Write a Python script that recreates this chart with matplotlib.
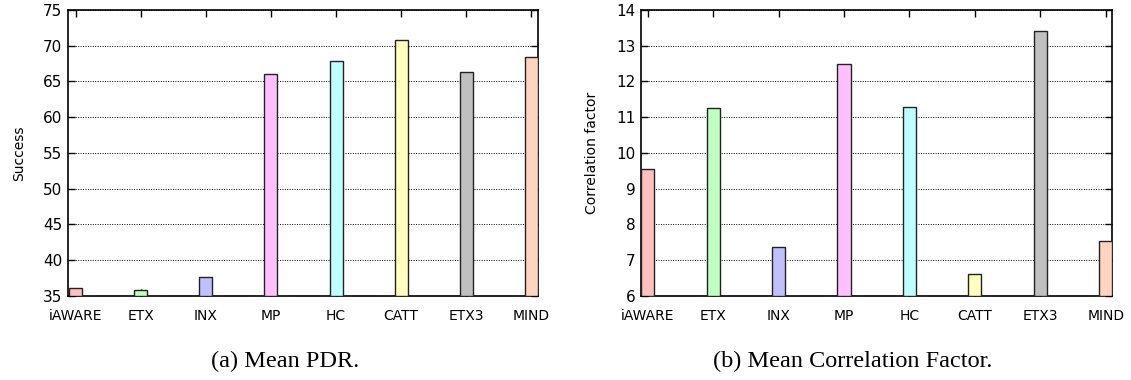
import matplotlib.pyplot as plt

plt.rcParams['font.family'] = 'DejaVu Sans'

# protocols compared
protocols = ["iAWARE", "ETX", "INX", "MP", "HC", "CATT", "ETX3", "MIND"]
bar_colors = ["#ffc0c0", "#c0ffc0", "#c0c0ff", "#ffc0ff",
              "#c0ffff", "#ffffc0", "#c0c0c0", "#ffd4c0"]

# mean PDR (success)
pdr = [36.1, 35.8, 37.7, 66.1, 67.9, 70.8, 66.3, 68.4]
# mean correlation factor
corr = [9.56, 11.27, 7.38, 12.50, 11.28, 6.62, 13.42, 7.55]

fig = plt.figure(figsize=(11.31, 3.80), dpi=100)
ax1 = fig.add_axes([0.0601, 0.221, 0.4156, 0.753])
ax2 = fig.add_axes([0.5668, 0.221, 0.4164, 0.753])

panels = [
    (ax1, pdr, "Success", (35, 75), range(35, 76, 5), (-0.12, 7.104),
     "(a) Mean PDR.", 0.252),
    (ax2, corr, "Correlation factor", (6, 14), range(6, 15), (-0.1, 7.094),
     "(b) Mean Correlation Factor.", 0.754),
]

for ax, vals, ylab, ylim, yticks, xlim, caption, cx in panels:
    x = range(len(protocols))
    base = ylim[0]
    ax.bar(x, [v - base for v in vals], bottom=base, width=0.2,
           color=bar_colors, edgecolor="#222222", linewidth=1.0, zorder=3)
    ax.set_xlim(*xlim)
    ax.set_ylim(*ylim)
    ax.set_yticks(list(yticks))
    ax.set_xticks(list(x))
    ax.set_xticklabels(protocols, fontsize=10)
    ax.tick_params(axis="y", labelsize=11, pad=4)
    ax.tick_params(direction="in", top=True, right=True, length=5, width=1)
    ax.tick_params(axis="x", pad=9)
    ax.yaxis.grid(True, linestyle=(0, (1, 1.5)), color="black", linewidth=0.7, zorder=0)
    ax.set_axisbelow(True)
    for s in ax.spines.values():
        s.set_linewidth(1.2)
    ax.set_ylabel(ylab, fontsize=10, labelpad=12)
    fig.text(cx, 1 - 367 / 380, caption, ha="center", va="baseline",
             fontsize=17.5, family="Liberation Serif")

fig.savefig("out.png", dpi=100)
